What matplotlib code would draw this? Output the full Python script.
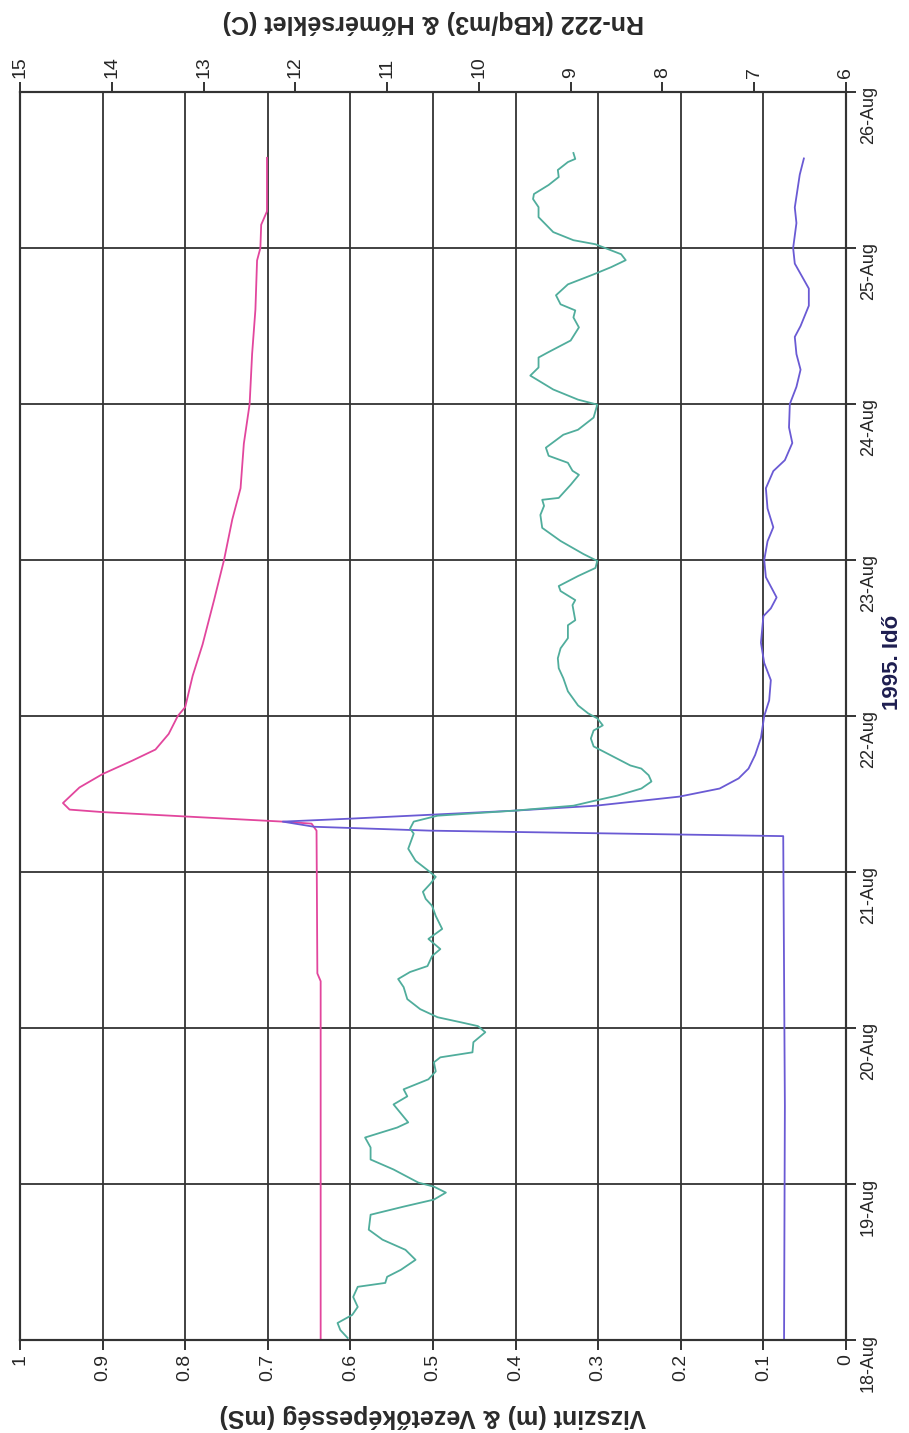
import matplotlib
matplotlib.use('Agg')
import matplotlib.pyplot as plt

plt.rcParams['font.family'] = ['Liberation Sans', 'DejaVu Sans']

# idő: napok 1995. aug. 18. 0:00-tól
date_labels = ['18-Aug', '19-Aug', '20-Aug', '21-Aug', '22-Aug',
               '23-Aug', '24-Aug', '25-Aug', '26-Aug']
left_ticks = [0, 0.1, 0.2, 0.3, 0.4, 0.5, 0.6, 0.7, 0.8, 0.9, 1]
left_labels = ['0', '0.1', '0.2', '0.3', '0.4', '0.5', '0.6', '0.7', '0.8', '0.9', '1']
right_ticks = [6, 7, 8, 9, 10, 11, 12, 13, 14, 15]

# vízszint (m) - bal tengely
szint_nap = [0.0, 1.5, 3.23, 3.265, 3.29, 3.323, 3.342, 3.393, 3.425, 3.483, 3.535,
             3.6, 3.663, 3.75, 3.86, 4.0, 4.10, 4.23, 4.34, 4.47, 4.64, 4.69, 4.76,
             4.89, 5.0, 5.12, 5.21, 5.33, 5.46, 5.57, 5.64, 5.75, 5.85, 6.0, 6.11,
             6.22, 6.32, 6.43, 6.50, 6.63, 6.74, 6.90, 7.0, 7.16, 7.26, 7.47, 7.574]
szint = [0.075, 0.074, 0.076, 0.503, 0.644, 0.682, 0.60, 0.402, 0.303, 0.202, 0.153,
         0.13, 0.118, 0.11, 0.103, 0.099, 0.093, 0.091, 0.099, 0.103, 0.10, 0.091, 0.084,
         0.097, 0.099, 0.095, 0.088, 0.095, 0.097, 0.088, 0.074, 0.065, 0.069, 0.068, 0.060,
         0.055, 0.060, 0.062, 0.055, 0.045, 0.045, 0.062, 0.064, 0.060, 0.062, 0.056, 0.051]

# vezetőképesség (mS) - bal tengely
vez_nap = [0.0, 2.3, 2.35, 3.265, 3.31, 3.323, 3.356, 3.384, 3.40, 3.442, 3.542,
           3.628, 3.714, 3.785, 3.885, 4.0, 4.057, 4.257, 4.458, 4.744, 5.0, 5.26,
           5.46, 5.746, 6.0, 6.32, 6.605, 6.92, 7.0, 7.149, 7.235, 7.578]
vez = [0.636, 0.636, 0.640, 0.641, 0.647, 0.682, 0.80, 0.90, 0.94, 0.948, 0.928,
       0.90, 0.864, 0.836, 0.82, 0.809, 0.800, 0.791, 0.779, 0.765, 0.753, 0.743,
       0.733, 0.729, 0.722, 0.719, 0.715, 0.713, 0.709, 0.708, 0.701, 0.701]

# Rn-222 (kBq/m3) - jobb tengely
rn_nap = [0.013, 0.064, 0.109, 0.161, 0.212, 0.276, 0.341, 0.366, 0.405, 0.450, 0.514,
          0.578, 0.643, 0.707, 0.803, 0.855, 0.900, 0.945, 0.983, 1.009, 1.093, 1.157,
          1.234, 1.298, 1.362, 1.395, 1.510, 1.562, 1.607, 1.671, 1.722, 1.780, 1.812,
          1.844, 1.909, 1.973, 2.012, 2.037, 2.069, 2.121, 2.185, 2.262, 2.314, 2.359,
          2.397, 2.461, 2.506, 2.571, 2.635, 2.718, 2.783, 2.828, 2.873, 2.924, 2.969,
          3.008, 3.072, 3.149, 3.246, 3.278, 3.323, 3.361, 3.393, 3.425, 3.458, 3.490,
          3.535, 3.580, 3.620, 3.663, 3.683, 3.772, 3.805, 3.856, 3.907, 3.940, 3.985,
          4.017, 4.068, 4.158, 4.242, 4.306, 4.370, 4.434, 4.499, 4.582, 4.614, 4.711,
          4.743, 4.801, 4.833, 4.897, 4.949, 4.994, 5.038, 5.122, 5.206, 5.289, 5.347,
          5.386, 5.398, 5.482, 5.546, 5.572, 5.623, 5.668, 5.720, 5.803, 5.835, 5.913,
          5.996, 6.028, 6.093, 6.182, 6.234, 6.298, 6.330, 6.407, 6.491, 6.555, 6.600,
          6.639, 6.697, 6.767, 6.831, 6.877, 6.922, 6.960, 7.024, 7.050, 7.102, 7.198,
          7.262, 7.314, 7.346, 7.404, 7.455, 7.500, 7.551, 7.571, 7.609]
rn = [11.43, 11.51, 11.54, 11.38, 11.32, 11.37, 11.32, 11.02, 11.00, 10.85, 10.69,
      10.80, 11.05, 11.20, 11.18, 10.82, 10.49, 10.36, 10.49, 10.66, 10.93, 11.18,
      11.18, 11.24, 10.89, 10.77, 10.93, 10.78, 10.82, 10.55, 10.47, 10.49, 10.42,
      10.07, 10.06, 9.93, 10.01, 10.20, 10.45, 10.64, 10.78, 10.82, 10.88, 10.75,
      10.56, 10.51, 10.42, 10.55, 10.40, 10.47, 10.51, 10.58, 10.61, 10.53, 10.47,
      10.55, 10.69, 10.77, 10.71, 10.75, 10.71, 10.45, 9.62, 8.97, 8.73, 8.49,
      8.23, 8.12, 8.15, 8.23, 8.35, 8.64, 8.75, 8.78, 8.75, 8.65, 8.71,
      8.81, 8.92, 9.03, 9.08, 9.13, 9.14, 9.11, 9.03, 9.03, 8.95, 8.98,
      8.95, 9.11, 9.13, 8.92, 8.73, 8.71, 8.86, 9.11, 9.31, 9.33, 9.29,
      9.31, 9.13, 9.00, 8.91, 8.98, 9.03, 9.24, 9.27, 9.08, 8.92, 8.75,
      8.71, 8.92, 9.19, 9.44, 9.35, 9.35, 9.25, 9.00, 8.91, 8.97, 8.95,
      9.11, 9.16, 9.03, 8.75, 8.56, 8.40, 8.45, 8.73, 8.97, 9.19, 9.35,
      9.35, 9.41, 9.40, 9.24, 9.13, 9.14, 9.03, 8.95, 8.97]

fig = plt.figure(figsize=(9.09, 14.33), dpi=100)
ax = fig.add_axes([20 / 909, 93 / 1433, 826 / 909, 1248 / 1433])

# az eredeti ábra 90 fokkal elforgatva: idő függőlegesen, értékek vízszintesen
ax.plot(vez, vez_nap, color='#e2469d', lw=1.3)
ax.plot(szint, szint_nap, color='#6a5ad4', lw=1.3)
ax.set_xlim(1, 0)
ax.set_ylim(0, 8)
ax.set_xticks(left_ticks)
ax.set_xticklabels(left_labels)
ax.set_yticks(range(len(date_labels)))
ax.set_yticklabels(date_labels)
ax.yaxis.tick_right()
ax.grid(True, color='#333333', lw=1.3)

ax2 = ax.twiny()
ax2.plot(rn, rn_nap, color='#50ad9c', lw=1.3)
ax2.set_xlim(15, 6)
ax2.set_xticks(right_ticks)
ax2.set_ylim(0, 8)

for a in (ax, ax2):
    for s in a.spines.values():
        s.set_color('#333333')
        s.set_linewidth(1.5)

ax.tick_params(axis='x', direction='out', length=7, width=1.4, color='#333333',
               labelsize=14, labelrotation=90, pad=3, labelcolor='#262626')
ax.tick_params(axis='y', direction='out', length=7, width=1.4, color='#333333',
               labelsize=13, labelrotation=90, pad=3, labelcolor='#262626')
ax2.tick_params(axis='x', direction='out', length=7, width=1.4, color='#333333',
                labelsize=14, labelrotation=90, pad=3, labelcolor='#262626')

fig.text(433 / 909, 1 - 1416 / 1433, 'Vizszint (m) & Vezetőképesség (mS)', rotation=180,
         ha='center', va='center', fontsize=18, fontweight='bold', color='#2a2a2a')
fig.text(433 / 909, 1 - 22 / 1433, 'Rn-222 (kBq/m3) & Hőmérséklet (C)', rotation=180,
         ha='center', va='center', fontsize=18, fontweight='bold', color='#2a2a2a')
fig.text(893 / 909, 1 - 662 / 1433, '1995. Idő', rotation=90,
         ha='center', va='center', fontsize=16, fontweight='bold', color='#1e1e50')

fig.savefig('out.png', dpi=100)
